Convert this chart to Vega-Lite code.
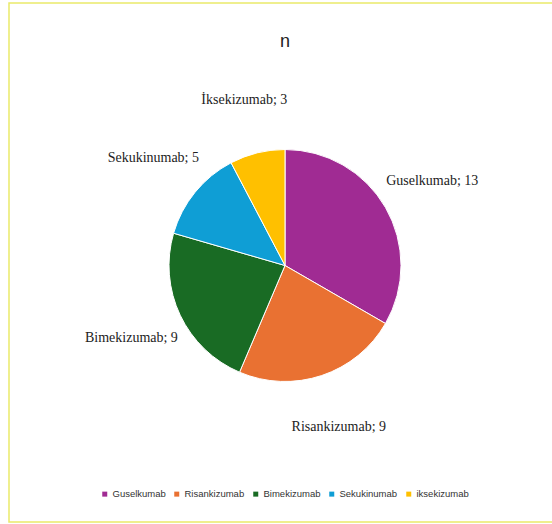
{
  "$schema": "https://vega.github.io/schema/vega-lite/v6.json",
  "width": 552,
  "height": 519,
  "autosize": {"type": "none"},
  "padding": {"left": 9, "top": 3, "right": 0, "bottom": 2},
  "background": "white",
  "view": {"stroke": "#eaea6a", "strokeWidth": 1.5},
  "title": {
    "text": "n",
    "offset": -57,
    "anchor": "middle",
    "font": "Liberation Sans",
    "fontSize": 18,
    "fontWeight": "normal",
    "color": "#222222",
    "baseline": "middle"
  },
  "data": {
    "values": [
      {"drug": "Guselkumab", "label": "Guselkumab; 13", "n": 13},
      {"drug": "Risankizumab", "label": "Risankizumab; 9", "n": 9},
      {"drug": "Bimekizumab", "label": "Bimekizumab; 9", "n": 9},
      {"drug": "Sekukinumab", "label": "Sekukinumab; 5", "n": 5},
      {"drug": "iksekizumab", "label": "İksekizumab; 3", "n": 3}
    ]
  },
  "transform": [{"window": [{"op": "row_number", "as": "idx"}]}],
  "encoding": {
    "theta": {"field": "n", "type": "quantitative", "stack": true},
    "order": {"field": "idx", "type": "quantitative", "sort": "ascending"},
    "color": {
      "field": "drug",
      "type": "nominal",
      "sort": ["Guselkumab", "Risankizumab", "Bimekizumab", "Sekukinumab", "iksekizumab"],
      "scale": {
        "domain": ["Guselkumab", "Risankizumab", "Bimekizumab", "Sekukinumab", "iksekizumab"],
        "range": ["#a02b93", "#e97132", "#196b24", "#0f9ed5", "#ffc000"]
      },
      "legend": {
        "title": null,
        "orient": "none",
        "legendX": 91,
        "legendY": 486,
        "direction": "horizontal",
        "columns": 5,
        "symbolType": "square",
        "symbolSize": 25,
        "symbolStrokeWidth": 0,
        "labelFont": "Liberation Sans",
        "labelFontSize": 9.5,
        "labelColor": "#333333",
        "columnPadding": 6,
        "labelOffset": 3
      }
    }
  },
  "layer": [
    {
      "mark": {"type": "arc", "outerRadius": 116, "stroke": "white", "strokeWidth": 1, "yOffset": 3}
    },
    {
      "mark": {"type": "text", "radius": 170, "font": "Liberation Serif", "fontSize": 14, "color": "#222222", "yOffset": 3},
      "encoding": {
        "text": {"field": "label", "type": "nominal"},
        "color": {"value": "#222222"},
        "detail": {"field": "drug", "type": "nominal"}
      }
    }
  ]
}
